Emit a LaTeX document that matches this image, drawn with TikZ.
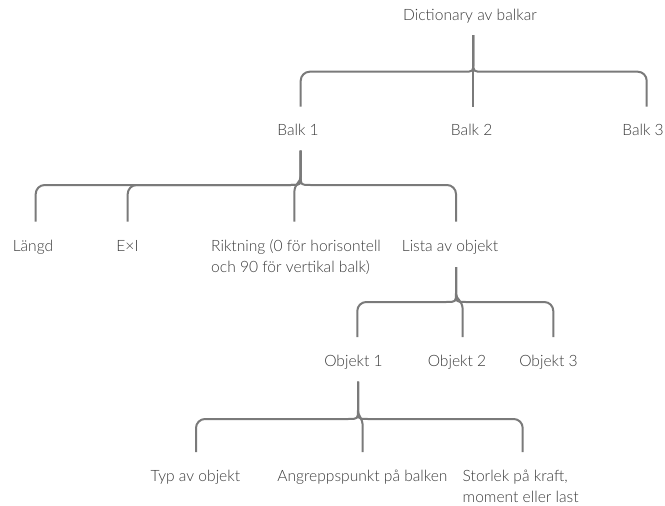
\documentclass[tikz,border=0pt]{standalone}
\usepackage{fontspec}
\setmainfont{Lato}[UprightFont={* Light}]
\usetikzlibrary{calc}
\definecolor{txtgray}{HTML}{3A3A3A}
\definecolor{linegray}{HTML}{7A7A7A}
\begin{document}
\begin{tikzpicture}[x=1pt,y=-1pt,
  lbl/.style={font=\fontsize{15.6}{21}\selectfont, text=txtgray, inner sep=0pt, anchor=base},
  conn/.style={draw=linegray, line width=2pt, line join=round},
]
\useasboundingbox (0,0) rectangle (665,506);

% labels (two-line labels are placed by the baseline of their last line)
\node[lbl] (dict) at (470,20) {Dictionary av balkar};
\node[lbl] (balk1) at (298,135) {Balk 1};
\node[lbl] (balk2) at (471.7,135) {Balk 2};
\node[lbl] (balk3) at (643,135) {Balk 3};
\node[lbl] (langd) at (33,251.5) {Längd};
\node[lbl] (exi) at (127.5,251.5) {E×I};
\node[lbl, anchor=base west, align=left] (rikt) at (211,272.5) {Riktning (0 för horisontell\\och 90 för vertikal balk)};
\node[lbl] (lista) at (450,251.5) {Lista av objekt};
\node[lbl] (obj1) at (353.5,366) {Objekt 1};
\node[lbl] (obj2) at (457,366) {Objekt 2};
\node[lbl] (obj3) at (548.5,366) {Objekt 3};
\node[lbl] (typ) at (195.4,481) {Typ av objekt};
\node[lbl] (angr) at (362.4,481) {Angreppspunkt på balken};
\node[lbl, anchor=base west, align=left] (stor) at (462.5,502) {Storlek på kraft,\\moment eller last};

% connector ends and brace junctions
\coordinate (dict-out) at (473.3,35);
\coordinate (j1) at (473.3,71.7);
\coordinate (balk1-in) at (300.7,106.7);
\coordinate (balk2-in) at (473.3,106.7);
\coordinate (balk3-in) at (646.7,106.7);

\coordinate (balk1-out) at (300.7,150.7);
\coordinate (j2) at (300.7,185);
\coordinate (langd-in) at (35.7,221.7);
\coordinate (exi-in) at (127.7,221.7);
\coordinate (rikt-in) at (294.3,221.7);
\coordinate (lista-in) at (456,221.7);

\coordinate (lista-out) at (456,267);
\coordinate (j3) at (456,302);
\coordinate (obj1-in) at (357.3,337);
\coordinate (obj2-in) at (462.7,337);
\coordinate (obj3-in) at (553.3,337);

\coordinate (obj1-out) at (358,381.7);
\coordinate (j4) at (358,419);
\coordinate (typ-in) at (196,452);
\coordinate (angr-in) at (362.7,452);
\coordinate (stor-in) at (522.7,452);

% brace: dictionary -> beams
\draw[conn] (dict-out) -- (balk2-in);
\draw[conn] (dict-out) -- ($(j1)+(0,-9)$) .. controls (j1) .. ($(j1)+(-10,0)$)
  [rounded corners=9pt] -- (j1 -| balk1-in) -- (balk1-in);
\draw[conn] (dict-out) -- ($(j1)+(0,-9)$) .. controls (j1) .. ($(j1)+(10,0)$)
  [rounded corners=9pt] -- (j1 -| balk3-in) -- (balk3-in);

% brace: beam -> properties
\draw[conn] (balk1-out) -- ($(j2)+(0,-9)$) .. controls (j2) .. ($(j2)+(-10,0)$)
  [rounded corners=9pt] -- (j2 -| langd-in) -- (langd-in);
\draw[conn] (balk1-out) -- ($(j2)+(0,-9)$) .. controls (j2) .. ($(j2)+(-10,0)$)
  [rounded corners=9pt] -- (j2 -| exi-in) -- (exi-in);
\draw[conn] (balk1-out) -- ($(j2)+(0,-9)$) .. controls ($(j2)+(0,-2)$) and ($(j2 -| rikt-in)+(0,-2)$) .. ($(j2 -| rikt-in)+(0,8)$) -- (rikt-in);
\draw[conn] (balk1-out) -- ($(j2)+(0,-9)$) .. controls (j2) .. ($(j2)+(10,0)$)
  [rounded corners=9pt] -- (j2 -| lista-in) -- (lista-in);

% brace: object list -> objects
\draw[conn] (lista-out) -- ($(j3)+(0,-9)$) .. controls (j3) .. ($(j3)+(-10,0)$)
  [rounded corners=9pt] -- (j3 -| obj1-in) -- (obj1-in);
\draw[conn] (lista-out) -- ($(j3)+(0,-9)$) .. controls ($(j3)+(0,-2)$) and ($(j3 -| obj2-in)+(0,-2)$) .. ($(j3 -| obj2-in)+(0,8)$) -- (obj2-in);
\draw[conn] (lista-out) -- ($(j3)+(0,-9)$) .. controls (j3) .. ($(j3)+(10,0)$)
  [rounded corners=9pt] -- (j3 -| obj3-in) -- (obj3-in);

% brace: object -> object data
\draw[conn] (obj1-out) -- ($(j4)+(0,-9)$) .. controls (j4) .. ($(j4)+(-10,0)$)
  [rounded corners=9pt] -- (j4 -| typ-in) -- (typ-in);
\draw[conn] (obj1-out) -- ($(j4)+(0,-9)$) .. controls ($(j4)+(0,-2)$) and ($(j4 -| angr-in)+(0,-2)$) .. ($(j4 -| angr-in)+(0,8)$) -- (angr-in);
\draw[conn] (obj1-out) -- ($(j4)+(0,-9)$) .. controls (j4) .. ($(j4)+(10,0)$)
  [rounded corners=9pt] -- (j4 -| stor-in) -- (stor-in);
\end{tikzpicture}
\end{document}
